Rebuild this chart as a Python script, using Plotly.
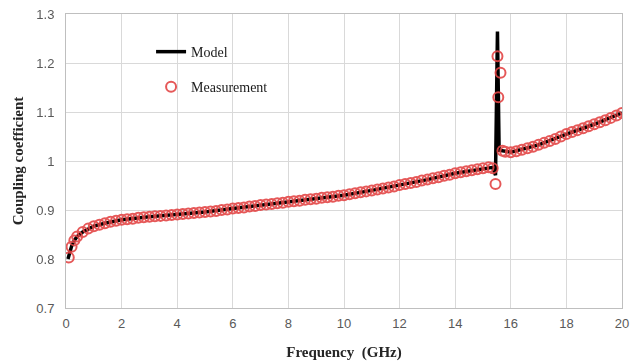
import plotly.graph_objects as go

# Measurement data (GHz, coupling coefficient)
meas_freq = [0.1, 0.2, 0.3, 0.4, 0.6, 0.8, 1.0, 1.2, 1.4, 1.6, 1.8, 2.0, 2.2, 2.4, 2.6, 2.8,
             3.0, 3.2, 3.4, 3.6, 3.8, 4.0, 4.2, 4.4, 4.6, 4.8, 5.0, 5.2, 5.4, 5.6, 5.8,
             6.0, 6.2, 6.4, 6.6, 6.8, 7.0, 7.2, 7.4, 7.6, 7.8, 8.0, 8.2, 8.4, 8.6, 8.8,
             9.0, 9.2, 9.4, 9.6, 9.8, 10.0, 10.2, 10.4, 10.6, 10.8, 11.0, 11.2, 11.4, 11.6, 11.8,
             12.0, 12.2, 12.4, 12.6, 12.8, 13.0, 13.2, 13.4, 13.6, 13.8, 14.0, 14.2, 14.4, 14.6, 14.8,
             15.0, 15.2, 15.35, 15.45, 15.52, 15.55, 15.63, 15.7, 15.8,
             16.0, 16.2, 16.4, 16.6, 16.8, 17.0, 17.2, 17.4, 17.6, 17.8,
             18.0, 18.2, 18.4, 18.6, 18.8, 19.0, 19.2, 19.4, 19.6, 19.8, 20.0]
meas_coupling = [0.803, 0.825, 0.838, 0.846, 0.855, 0.862, 0.867, 0.870, 0.873, 0.876, 0.878, 0.880, 0.881, 0.882, 0.884, 0.885,
                 0.886, 0.887, 0.888, 0.889, 0.890, 0.891, 0.892, 0.893, 0.894, 0.895, 0.896, 0.897, 0.898, 0.900, 0.901,
                 0.903, 0.904, 0.905, 0.907, 0.908, 0.910, 0.911, 0.912, 0.914, 0.915, 0.917, 0.918, 0.919, 0.921, 0.922,
                 0.923, 0.925, 0.926, 0.927, 0.929, 0.930, 0.932, 0.934, 0.936, 0.938, 0.940, 0.942, 0.944, 0.946, 0.948,
                 0.951, 0.953, 0.955, 0.957, 0.960, 0.962, 0.965, 0.967, 0.970, 0.972, 0.975, 0.977, 0.979, 0.981, 0.983,
                 0.985, 0.987, 0.985, 0.953, 1.214, 1.130, 1.180, 1.021, 1.019,
                 1.018, 1.020, 1.023, 1.026, 1.029, 1.033, 1.037, 1.041, 1.045, 1.050,
                 1.055, 1.059, 1.063, 1.067, 1.071, 1.075, 1.079, 1.083, 1.088, 1.093, 1.098]

# Model data
model_freq = [0.07, 0.1, 0.2, 0.3, 0.4, 0.6, 0.8, 1.0, 1.4, 2.0, 3.0, 4.0, 5.0, 6.0, 7.0, 8.0,
              9.0, 10.0, 11.0, 12.0, 13.0, 14.0, 15.0, 15.35, 15.45, 15.52, 15.58, 15.7,
              16.0, 17.0, 18.0, 19.0, 20.0]
model_coupling = [0.800, 0.806, 0.826, 0.838, 0.846, 0.855, 0.862, 0.867, 0.873, 0.880, 0.886, 0.891, 0.896, 0.903, 0.910, 0.917,
                  0.923, 0.930, 0.940, 0.951, 0.962, 0.975, 0.985, 0.987, 0.971, 1.264, 1.022, 1.021,
                  1.018, 1.033, 1.055, 1.075, 1.098]

x_ticks = [0, 2, 4, 6, 8, 10, 12, 14, 16, 18, 20]
y_ticks = [0.7, 0.8, 0.9, 1.0, 1.1, 1.2, 1.3]
y_tick_labels = ["0.7", "0.8", "0.9", "1", "1.1", "1.2", "1.3"]

fig = go.Figure()
fig.add_trace(go.Scatter(
    x=model_freq, y=model_coupling, mode="lines", name="Model",
    line=dict(color="black", width=3.5), legendgroup="a"))
fig.add_trace(go.Scatter(
    x=meas_freq, y=meas_coupling, mode="markers", name="Measurement",
    marker=dict(symbol="circle-open", size=10, color="#e34646", line=dict(width=2)),
    opacity=0.9, legendgroup="b"))

serif = "Liberation Serif, Times New Roman, serif"
fig.update_layout(
    width=631, height=364,
    margin=dict(l=66, r=9, t=14, b=56),
    paper_bgcolor="white", plot_bgcolor="white",
    showlegend=True,
    legend=dict(x=0.153, y=0.925, xanchor="left", yanchor="top",
                font=dict(family=serif, size=14, color="#1a1a1a"),
                bgcolor="rgba(0,0,0,0)", tracegroupgap=14),
    xaxis=dict(range=[0, 20], tickvals=x_ticks, showgrid=True, gridcolor="#d9d9d9",
               showline=True, linecolor="#bfbfbf", mirror=True, zeroline=False, ticks="",
               automargin=False, ticklabelstandoff=3,
               tickfont=dict(family="Liberation Sans, Arial", size=13, color="#595959"),
               title=dict(text="<b>Frequency\u00a0 (GHz)</b>",
                          font=dict(family=serif, size=15, color="#262626"), standoff=16)),
    yaxis=dict(range=[0.7, 1.3], tickvals=y_ticks, ticktext=y_tick_labels, showgrid=True,
               gridcolor="#d9d9d9", showline=True, linecolor="#bfbfbf", mirror=True,
               zeroline=False, ticks="", automargin=False, ticklabelstandoff=8,
               tickfont=dict(family="Liberation Sans, Arial", size=13, color="#595959"),
               title=dict(text="<b>Coupling coefficient</b>",
                          font=dict(family=serif, size=15, color="#262626"), standoff=9)),
)
fig.write_html("out.html", config={"displayModeBar": False},
               post_script="document.body.style.margin='0';document.body.style.overflow='hidden';")
